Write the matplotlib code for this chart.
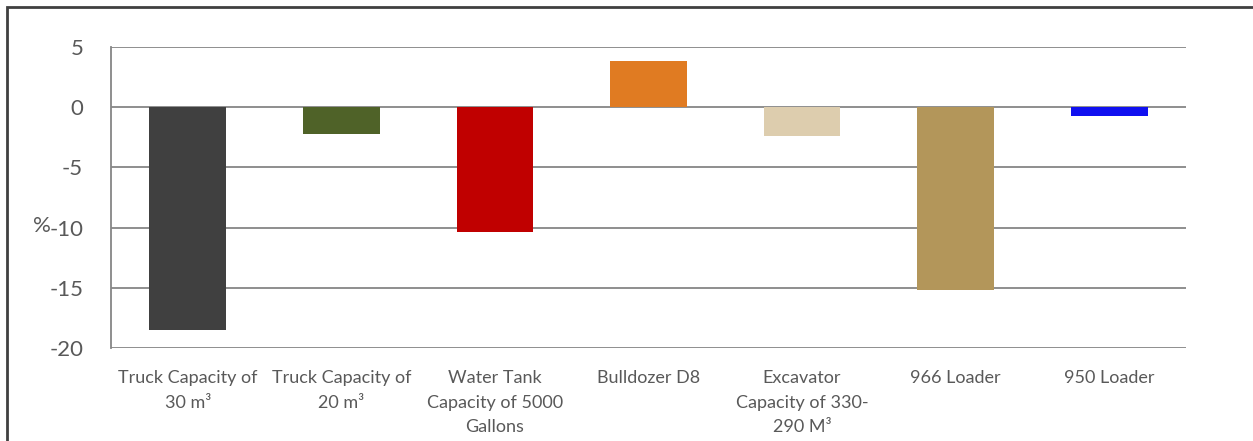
import matplotlib.pyplot as plt
from matplotlib.patches import Rectangle

categories = ['Truck Capacity of\n30 m³', 'Truck Capacity of\n20 m³',
              'Water Tank\nCapacity of 5000\nGallons', 'Bulldozer D8',
              'Excavator\nCapacity of 330-\n290 M³', '966 Loader', '950 Loader']
values = [-18.5, -2.2, -10.4, 3.8, -2.4, -15.2, -0.7]
colors = ['#404040', '#4F6228', '#C00000', '#E07B22', '#DDCDAE', '#B3965A', '#1010F0']
yticks = [5, 0, -5, -10, -15, -20]

plt.rcParams['font.family'] = ['Lato', 'DejaVu Sans']

fig = plt.figure(figsize=(12.53, 4.41), dpi=100)
ax = fig.add_axes([111 / 1253, 1 - 348 / 441, (1186 - 111) / 1253, (348 - 47) / 441])

x = range(len(categories))
ax.bar(x, values, width=0.5, color=colors, zorder=3)

ax.set_xlim(-0.5, len(categories) - 0.5)
ax.set_ylim(-20, 5)
ax.set_yticks(yticks)
ax.set_yticklabels([str(v) for v in yticks], fontsize=16, color='#595959')
ax.yaxis.grid(True, color='#868686', linewidth=1.3, zorder=0)
ax.tick_params(axis='y', length=0, pad=20)
ax.tick_params(axis='x', length=0, pad=16)
ax.set_xticks(list(x))
ax.set_xticklabels(categories, fontsize=13, color='#595959', linespacing=1.65, va='top')

for s in ['top', 'right', 'bottom']:
    ax.spines[s].set_visible(False)
ax.spines['left'].set_color('#868686')
ax.spines['left'].set_linewidth(1.3)

fig.text(33 / 1253, 1 - 226 / 441, '%', fontsize=16, color='#595959', va='center', ha='left')

# outer frame (top and left edges visible)
fig.patches.append(Rectangle((7 / 1253, -0.1), 1.2, 1 - 7 / 441 + 0.1, transform=fig.transFigure,
                             fill=False, edgecolor='#404040', linewidth=2))

fig.savefig('out.png', dpi=100)
